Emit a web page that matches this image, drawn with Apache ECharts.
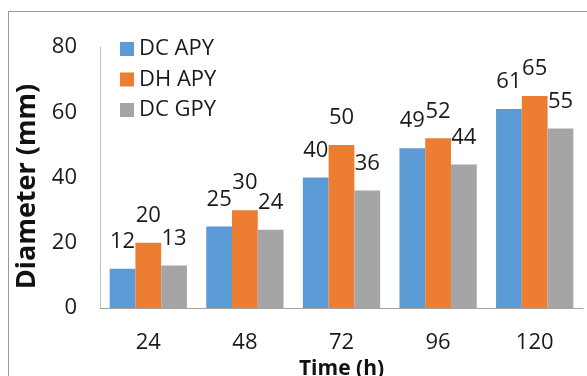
<!DOCTYPE html>
<html>
<head>
<meta charset="utf-8">
<script src="https://cdn.jsdelivr.net/npm/echarts@6/dist/echarts.min.js"></script>
<style>
html,body{margin:0;padding:0;background:#fff;}
#frame{position:absolute;left:8px;top:11px;width:600px;height:400px;border:1px solid #9a9a9a;box-sizing:border-box;}
#chart{position:absolute;left:0;top:0;width:587px;height:376px;}
</style>
</head>
<body>
<div id="frame"></div>
<div id="chart"></div>
<script>
const categories = ['24', '48', '72', '96', '120'];
const dcApy = [12, 25, 40, 49, 61];
const dhApy = [20, 30, 50, 52, 65];
const dcGpy = [13, 24, 36, 44, 55];
const yTicks = [0, 20, 40, 60, 80];

const FONT = '"Open Sans", "Noto Sans", sans-serif';
const chart = echarts.init(document.getElementById('chart'), null, {renderer: 'canvas'});
const labelStyle = {show: true, position: 'top', distance: 16, fontSize: 22, lineHeight: 22, color: '#1a1a1a', fontFamily: FONT};
function mk(name, data, color) {
  return {name, type: 'bar', data, itemStyle: {color}, label: labelStyle, barGap: '0%', barCategoryGap: '20%'};
}
chart.setOption({
  animation: false,
  textStyle: {fontFamily: FONT},
  grid: {left: 100, right: 4, top: 47, bottom: 68, containLabel: false, outerBoundsMode: 'none'},
  legend: {
    orient: 'vertical', left: 115, top: 33, itemWidth: 14, itemHeight: 14, itemGap: 8.5,
    textStyle: {fontSize: 22, lineHeight: 22, color: '#1a1a1a', fontFamily: FONT},
    icon: 'rect',
    data: ['DC APY', 'DH APY', 'DC GPY']
  },
  xAxis: {
    type: 'category', data: categories,
    name: 'Time (h)', nameLocation: 'middle', nameGap: 44,
    nameTextStyle: {fontSize: 21, fontWeight: 'bold', color: '#111', fontFamily: FONT},
    axisLine: {lineStyle: {color: '#a6a6a6', width: 1}},
    axisTick: {show: false},
    axisLabel: {fontSize: 22, lineHeight: 22, color: '#1a1a1a', margin: 24, fontFamily: FONT}
  },
  yAxis: {
    type: 'value', min: yTicks[0], max: yTicks[yTicks.length - 1], interval: 20,
    name: 'Diameter (mm)', nameLocation: 'middle', nameGap: 54, nameRotate: 90,
    nameTextStyle: {fontSize: 27, fontWeight: 'bold', color: '#111', fontFamily: FONT, padding: [0, 0, 0, -18]},
    axisLine: {show: true, lineStyle: {color: '#bfbfbf', width: 1}},
    axisTick: {show: false},
    splitLine: {show: false},
    axisLabel: {fontSize: 22, color: '#1a1a1a', margin: 23, fontFamily: FONT}
  },
  series: [
    mk('DC APY', dcApy, '#5B9BD5'),
    mk('DH APY', dhApy, '#ED7D31'),
    mk('DC GPY', dcGpy, '#A5A5A5')
  ]
});
</script>
</body>
</html>
